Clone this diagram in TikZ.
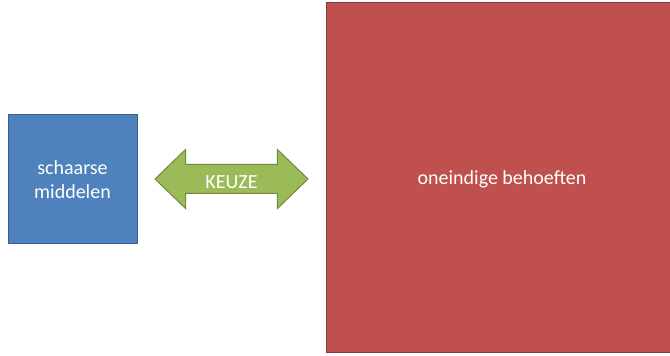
\documentclass[tikz,border=0pt]{standalone}
\usepackage{fontspec}
\setmainfont{Carlito}
\usetikzlibrary{shapes.arrows}

\definecolor{blueFill}{HTML}{4F81BD}
\definecolor{blueLine}{HTML}{385D8A}
\definecolor{redFill}{HTML}{C0504D}
\definecolor{redLine}{HTML}{8C3836}
\definecolor{greenFill}{HTML}{9BBB59}
\definecolor{greenLine}{HTML}{71893F}

\begin{document}
\begin{tikzpicture}[x=1pt,y=1pt,
box/.style={rectangle,
  inner sep=0pt,
  line width=1pt,
  text=white,align=center,
  font=\fontsize{20}{24}\selectfont
},
keuze/.style={double arrow,
  double arrow head extend=15pt,
  double arrow tip angle=88,
  minimum height=153pt,minimum width=58pt,
  inner xsep=4pt,inner ysep=4.5pt,
  text height=19pt,text depth=0pt,
  fill=greenFill,draw=greenLine,line width=1pt,
  text=white,font=\fontsize{20}{24}\selectfont
}]

\useasboundingbox (0,0) rectangle (670,356);
\clip (0,0) rectangle (670,356);

\node (middelen) [box,fill=blueFill,draw=blueLine,minimum width=129pt,minimum height=129pt]
  at (72.5,176.5) {schaarse\\middelen};
\node (behoeften) [box,fill=redFill,draw=redLine,minimum width=352pt,minimum height=350pt,
  text height=18pt,text depth=4pt]
  at (502,178) {oneindige behoeften};
\node (keuze) [keuze] at (231.5,177) {KEUZE};

\end{tikzpicture}
\end{document}
